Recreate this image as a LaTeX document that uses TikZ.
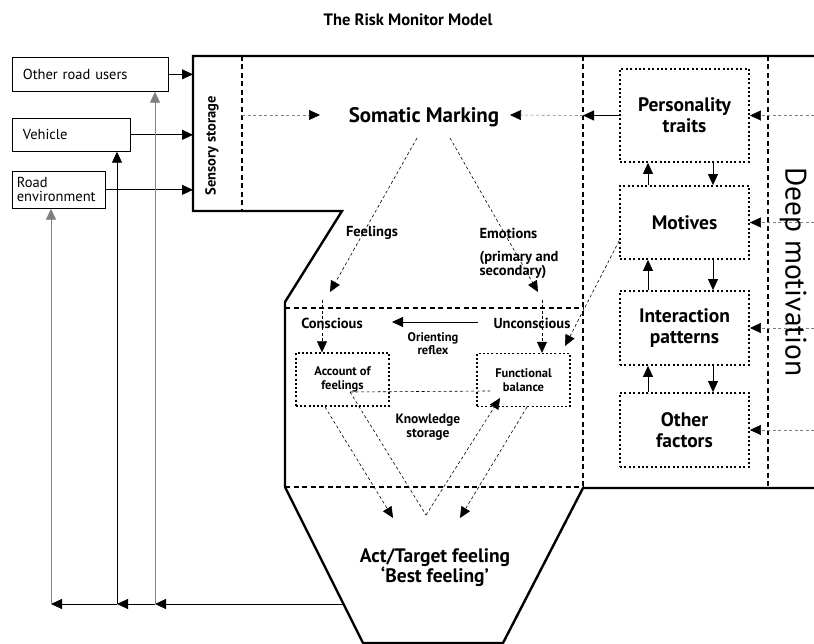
\documentclass[tikz,border=0pt]{standalone}
\usepackage{fontspec}
\setmainfont{PT Sans}
\usetikzlibrary{arrows.meta}

\begin{document}
\begin{tikzpicture}[x=1pt,y=-1pt,
    outline/.style={line width=2.4pt,line join=miter},
    zone/.style={line width=2pt,dash pattern=on 5pt off 3.5pt},
    factor/.style={draw,line width=1.8pt,dash pattern=on 2pt off 2.4pt,
      minimum width=129pt,align=center,font=\bfseries\fontsize{19.5}{21}\selectfont},
    store/.style={draw,line width=1.3pt,dash pattern=on 2pt off 2.2pt,
      minimum width=93pt,minimum height=53pt,align=center,font=\bfseries\fontsize{12.5}{14}\selectfont},
    source/.style={draw,line width=0.7pt,anchor=north west,align=left,
      font=\fontsize{14.5}{15}\selectfont},
    arr/.style={-{Triangle[length=11pt,width=10pt]},line width=0.8pt},
    link/.style={-{Triangle[length=11pt,width=10pt]},line width=0.6pt,dash pattern=on 3pt off 2.5pt},
    graylink/.style={-{Triangle[length=11pt,width=10pt,black]},gray,line width=0.6pt,dash pattern=on 3pt off 2.5pt},
    trace/.style={line width=0.6pt,dash pattern=on 3pt off 2.5pt},
    lbl/.style={font=\bfseries\fontsize{14.5}{15}\selectfont,align=center},
    small/.style={font=\bfseries\fontsize{12.5}{13}\selectfont,align=center}]

    \useasboundingbox (0,0) rectangle (814,644);

    \node[font=\bfseries\fontsize{16.5}{18}\selectfont] (title) at (408,20) {The Risk Monitor Model};

    % Outline and zones
    \draw[outline] (814,56) -- (193,56) -- (193,211) -- (342,211) -- (285,302) -- (285,487)
        -- (363,643) -- (503,643) -- (583,488) -- (814,488);
    \draw[zone] (242,56) -- (242,211);
    \draw[zone] (583,56) -- (583,488);
    \draw[zone] (768,56) -- (768,488);
    \draw[zone] (285,308) -- (583,308);
    \draw[zone] (285,487) -- (583,487);

    % Road inputs
    \node[source,minimum width=156pt,minimum height=34pt,text width=135pt] (oru) at (12,57) {Other road users};
    \node[source,minimum width=118pt,minimum height=33pt,text width=97pt] (veh) at (12,118) {Vehicle};
    \node[source,minimum width=93pt,minimum height=37pt,text width=84pt,inner xsep=4.5pt,
      font=\fontsize{14.5}{14}\selectfont] (renv) at (12,171) {Road\\environment};
    \coordinate (sensin) at (193,0);
    \draw[arr] (oru.east) -- (oru.east -| sensin);
    \draw[arr] (veh.east) -- (veh.east -| sensin);
    \draw[arr] (renv.east) -- (renv.east -| sensin);

    % Feedback to the road
    \coordinate (act) at (343,604);
    \coordinate (fbA) at (155,604);
    \coordinate (fbB) at (117,604);
    \coordinate (fbC) at (51,604);
    \draw[arr] (act) -- (fbA);
    \draw[arr] (fbA) -- (fbB);
    \draw[arr] (fbB) -- (fbC);
    \draw[arr,gray] (fbA) -- (oru.south -| fbA);
    \draw[arr] (fbB) -- (veh.south -| fbB);
    \draw[arr,gray] (fbC) -- (renv.south -| fbC);

    % Sensory storage and somatic marking
    \node[lbl,rotate=90] (sens) at (212,146) {Sensory storage};
    \node[font=\bfseries\fontsize{21}{24}\selectfont] (som) at (424,117) {Somatic Marking};
    \coordinate (sensout) at (242,115);
    \coordinate (somL) at (320,115);
    \coordinate (somR) at (510,115);
    \draw[graylink] (sensout) -- (somL);

    % Deep motivation factors
    \node[factor,minimum height=93pt] (pers) at (684.5,115.5) {Personality\\traits};
    \node[factor,minimum height=73pt] (mot) at (684.5,222.5) {Motives};
    \node[factor,minimum height=74pt] (inter) at (684.5,328) {Interaction\\patterns};
    \node[factor,minimum height=74pt] (other) at (684.5,430) {Other\\factors};
    \foreach \a/\b in {pers/mot,mot/inter,inter/other}{
        \draw[arr] ([xshift=-36.5pt]\b.north) -- ([xshift=-36.5pt]\a.south);
        \draw[arr] ([xshift=28.5pt]\a.south) -- ([xshift=28.5pt]\b.north);
    }
    \coordinate (rim) at (814,0);
    \coordinate (mline) at (583,0);
    \foreach \f in {pers,mot,inter,other}
        \draw[graylink] (\f.east -| rim) -- (\f.east);
    \draw[arr] (pers.west) -- (pers.west -| mline);
    \draw[graylink] (pers.west -| mline) -- (somR);
    \node[rotate=-90,font=\fontsize{29.5}{30}\selectfont] (deep) at (793,272) {Deep motivation};

    % Feelings and emotions
    \node[lbl] (feel) at (372,233) {Feelings};
    \node[lbl,anchor=west] (emo) at (476,233) {Emotions};
    \node[lbl,anchor=west,align=left,font=\bfseries\fontsize{14.5}{14}\selectfont] (emo2) at (476,265) {(primary and\\secondary)};
    \coordinate (smA) at (417,138);
    \coordinate (smB) at (450,138);
    \coordinate (feelT) at (330,292);
    \coordinate (emoT) at (538,292);
    \draw[link] (smA) -- (feelT);
    \draw[link] (smB) -- (emoT);

    % Conscious / unconscious
    \node[lbl] (con) at (332,323) {Conscious};
    \node[lbl] (uncon) at (532,323) {Unconscious};
    \node[small] (orient) at (433,343.5) {Orienting\\reflex};
    \coordinate (orA) at (478,322);
    \coordinate (orB) at (392,322);
    \draw[arr] (orA) -- (orB);
    \node[store] (acc) at (342.5,379.5) {Account of\\feelings};
    \node[store] (fun) at (523.5,380) {Functional\\balance};
    \coordinate (conV) at (322,300);
    \coordinate (unV) at (542,300);
    \draw[link] (conV) -- (acc.north -| conV);
    \draw[link] (unV) -- (fun.north -| unV);
    \draw[link] ([yshift=19pt]mot.south west) -- (565,346);

    % Knowledge storage
    \node[small,font=\bfseries\fontsize{13.5}{14}\selectfont] (know) at (428,427) {Knowledge\\storage};
    \coordinate (kA) at (350,392);
    \coordinate (kB) at (490,391);
    \coordinate (kV) at (426,515);
    \coordinate (kF) at (500,398);
    \draw[trace] (kA) -- (kB);
    \draw[trace] (kA) -- (kV);
    \draw[link] (kV) -- (kF);
    \coordinate (accB) at (325,407);
    \coordinate (funB) at (527,407);
    \coordinate (actL) at (393,518);
    \coordinate (actR) at (460,518);
    \draw[link] (accB) -- (actL);
    \draw[link] (funB) -- (actR);

    % Act
    \node[lbl,font=\bfseries\fontsize{19.5}{19.5}\selectfont] (target) at (435,567.5) {Act/Target feeling\\‘Best feeling’};
\end{tikzpicture}
\end{document}
